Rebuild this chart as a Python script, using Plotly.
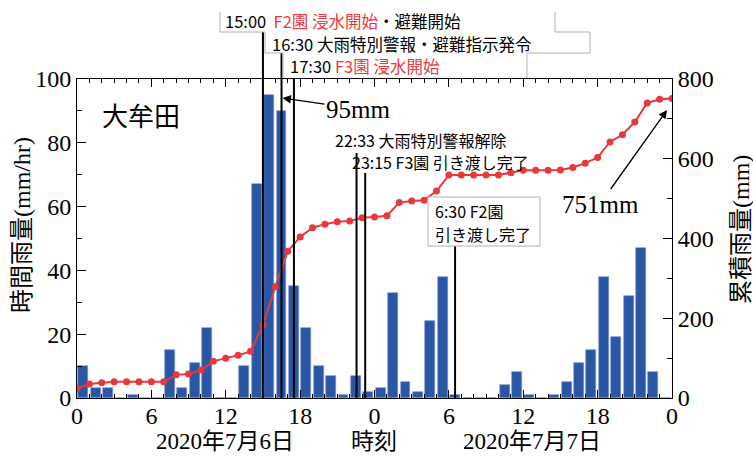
import plotly.graph_objects as go

# Hourly rainfall (mm/hr) for each hour from 0:00 on 6 July 2020 through 23:00 on 7 July
rain_hourly = [10, 3, 3, 0, 1, 0, 0, 15, 3, 11, 22, 0, 0, 10, 67, 95, 90, 35,
               22, 10, 7, 1, 7, 2, 3, 33, 5, 2, 24, 38, 1, 0, 0, 0, 4, 8, 1, 0,
               1, 5, 11, 15, 38, 19, 32, 47, 8, 0]
# Cumulative rainfall (mm) at each hour boundary, 0 .. 48
rain_cumulative = [24, 35, 38, 41, 41, 41, 41, 41, 58, 60, 70, 92, 100, 107, 117,
                   183, 279, 368, 404, 427, 436, 442, 444, 452, 454, 457, 490, 494,
                   496, 519, 559, 559, 559, 559, 559, 565, 571, 571, 571, 572, 578,
                   589, 603, 642, 660, 692, 740, 749, 751]
x_tick_hours = [0, 6, 12, 18, 24, 30, 36, 42, 48]
x_tick_labels = ["0", "6", "12", "18", "0", "6", "12", "18", "0"]
# Event times in hours since 0:00 on 6 July
event_hours = [15.0, 16.5, 17.5, 22 + 33 / 60, 23.25, 30.5]

BLUE = "#2a56a6"
RED = "#e8383d"
SERIF = "Liberation Serif, Noto Sans CJK JP"
SANS = "Noto Sans CJK JP"

W, H = 753, 456
L, R, T, B = 77, 81, 79, 58
PW, PH = W - L - R, H - T - B


def px(x):
    return (x - L) / PW


def py(y):
    return (H - B - y) / PH


hour_count = len(rain_hourly)
bar_x = [h + 0.5 for h in range(hour_count)]
line_x = list(range(len(rain_cumulative)))

fig = go.Figure()
fig.add_trace(go.Bar(
    x=bar_x, y=rain_hourly, width=0.8,
    marker=dict(color=BLUE, line=dict(color="#7391c9", width=0.6)),
    yaxis="y", showlegend=False,
))
fig.add_trace(go.Scatter(
    x=line_x, y=rain_cumulative, mode="lines+markers",
    line=dict(color=RED, width=2),
    marker=dict(color=RED, size=7),
    yaxis="y2", showlegend=False,
))

# Vertical event lines, each reaching up to its label
line_tops = [py(32), py(53), 1.0, py(153), py(173), py(246)]
shapes = []
for t, top in zip(event_hours, line_tops):
    shapes.append(dict(type="line", xref="x", yref="paper", x0=t, x1=t,
                       y0=0, y1=top, line=dict(color="black", width=2)))


def path(points):
    d = "M " + " L ".join(f"{px(a):.4f},{py(b):.4f}" for a, b in points)
    return dict(type="path", xref="paper", yref="paper", path=d,
                line=dict(color="#b0b0b0", width=1))


# Outline of the stacked event labels above the plot
shapes.append(path([(220, 12), (220, 32), (265, 32), (265, 53), (283, 53), (283, 78)]))
shapes.append(path([(555, 12), (555, 32), (590, 32), (590, 53), (527, 53), (527, 78)]))
# Box around the 6:30 label
shapes.append(dict(type="rect", xref="paper", yref="paper",
                   x0=px(428), x1=px(540), y0=py(246), y1=py(197),
                   line=dict(color="#b0b0b0", width=1), fillcolor="white"))

red = lambda s: f"<span style='color:#ea3a42'>{s}</span>"
nb = "\u00a0"

annotations = []


def label(text, x, y, size=16, family=SANS, xanchor="left", **kw):
    annotations.append(dict(text=text, xref="paper", yref="paper", x=px(x), y=py(y),
                            xanchor=xanchor, yanchor="middle", showarrow=False,
                            borderpad=0, align="left",
                            font=dict(family=family, size=size, color="black"), **kw))


label(f"15:00{nb}{nb}" + red(f"F2園{nb}浸水開始") + "・避難開始", 224, 21, size=16.5)
label(f"16:30{nb}大雨特別警報・避難指示発令", 271, 44, size=16.5)
label(f"17:30{nb}" + red(f"F3園{nb}浸水開始"), 289, 66, size=16.5)
label(f"22:33{nb}大雨特別警報解除", 334, 140)
label(f"23:15{nb}F3園{nb}引き渡し完了", 351, 162)
label(f"6:30{nb}F2園", 434, 211)
label("引き渡し完了", 434, 234)
label("大牟田", 141, 114, size=26, xanchor="center")

label("2020年7月6日", 225, 441, size=23, family=SERIF, xanchor="center")
label("時刻", 374, 441, size=23, family=SERIF, xanchor="center")
label("2020年7月7日", 532, 441, size=23, family=SERIF, xanchor="center")
label("時間雨量(mm/hr)", 22, 225, size=24, family=SERIF, xanchor="center", textangle=-90)
label("累積雨量(mm)", 741, 230, size=24, family=SERIF, xanchor="center", textangle=-90)

# Peak hourly value and final cumulative total, with arrows
peak_idx = rain_hourly.index(max(rain_hourly))
tip1 = (282.5, 98)
annotations.append(dict(text=f"{rain_hourly[peak_idx]}mm", xref="paper", yref="paper",
                        x=px(tip1[0]), y=py(tip1[1]), ax=358 - tip1[0], ay=109 - tip1[1],
                        axref="pixel", ayref="pixel", showarrow=True, arrowhead=2,
                        arrowsize=1.3, arrowwidth=1.3, arrowcolor="black",
                        font=dict(family=SERIF, size=25, color="black")))
tip2 = (667, 110)
annotations.append(dict(text=f"{rain_cumulative[-1]}mm", xref="paper", yref="paper",
                        x=px(tip2[0]), y=py(tip2[1]), ax=600 - tip2[0], ay=204 - tip2[1],
                        axref="pixel", ayref="pixel", showarrow=True, arrowhead=2,
                        arrowsize=1.3, arrowwidth=1.3, arrowcolor="black",
                        font=dict(family=SERIF, size=25, color="black")))

tickfont = dict(family="Liberation Serif", size=24, color="black")
fig.update_layout(
    width=W, height=H,
    margin=dict(l=L, r=R, t=T, b=B, pad=0),
    paper_bgcolor="white", plot_bgcolor="white",
    bargap=0,
    xaxis=dict(range=[0, hour_count], tickvals=x_tick_hours, ticktext=x_tick_labels,
               ticks="inside", ticklen=8, tickcolor="black", tickwidth=1,
               minor=dict(dtick=1, tick0=0, ticks="inside", ticklen=4, tickcolor="black"),
               showline=True, linecolor="black", linewidth=1, mirror="ticks",
               showgrid=False, zeroline=False, tickfont=tickfont, fixedrange=True,
               ticklabelstandoff=-4),
    yaxis=dict(range=[0, 100], dtick=20, ticks="inside", ticklen=9, tickcolor="black",
               minor=dict(dtick=10, ticks="inside", ticklen=5, tickcolor="black"),
               showline=True, linecolor="black", linewidth=1,
               showgrid=False, zeroline=False, tickfont=tickfont),
    yaxis2=dict(range=[0, 800], dtick=200, ticks="inside", ticklen=9, tickcolor="black",
                minor=dict(dtick=100, ticks="inside", ticklen=5, tickcolor="black"),
                showline=True, linecolor="black", linewidth=1,
                overlaying="y", side="right", showgrid=False, zeroline=False,
                tickfont=tickfont),
    shapes=shapes,
    annotations=annotations,
)

fig.write_html("out.html")
